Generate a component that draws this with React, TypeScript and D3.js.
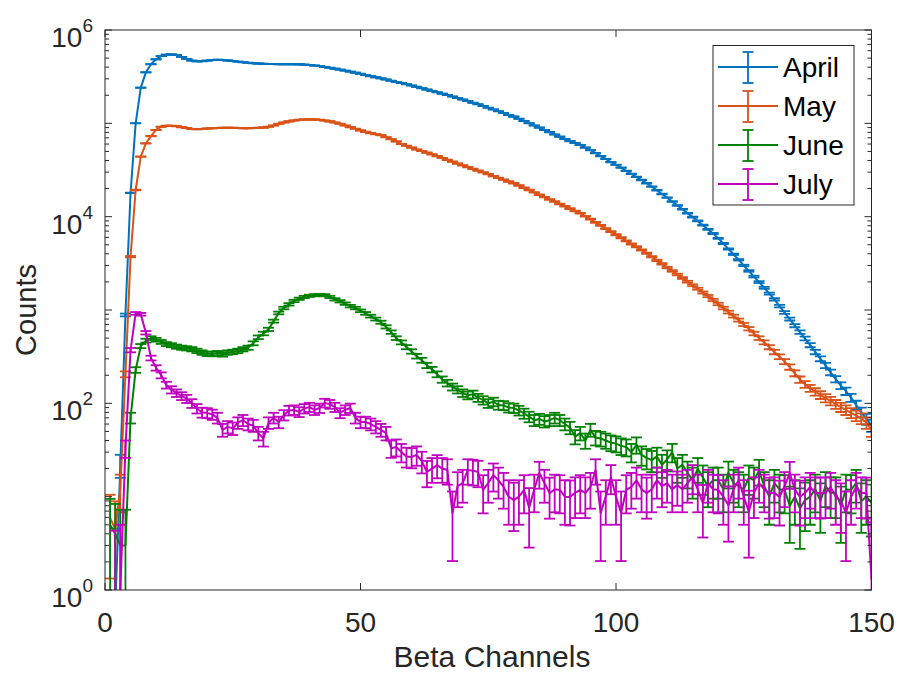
import React, { useEffect, useRef } from 'react';
import * as d3 from 'd3';

// channel numbers (x)
const channels: number[] = d3.range(1, 151);

// counts per channel
const april: number[] = [
  0, 0.6, 22, 885, 18000, 100000, 241000, 352000, 430000, 485000,
  525000, 545000, 548000, 540000, 515000, 490000, 470000, 462000, 463000, 470000,
  476000, 480000, 478000, 472000, 465000, 458000, 451000, 446000, 441000, 437000,
  434000, 432000, 431000, 430000, 430000, 430000, 430000, 429000, 426000, 421000,
  416000, 410000, 402000, 394000, 385000, 376000, 367000, 358000, 349000, 340000,
  330000, 320000, 311000, 303000, 295000, 286000, 278000, 270000, 262000, 254000,
  246000, 238000, 230000, 222000, 215000, 208000, 201000, 194000, 187000, 180000,
  173000, 166000, 160000, 153000, 147000, 141000, 135000, 129000, 123000, 118000,
  112000, 106000, 100000, 95000, 90000, 85000, 80500, 76000, 72000, 68000,
  64500, 61500, 58600, 55000, 51500, 48000, 44500, 41500, 38500, 36000,
  33500, 31000, 28800, 26700, 24700, 22800, 21000, 19200, 17500, 16000,
  14500, 13200, 12000, 10900, 9900, 9000, 8100, 7300, 6600, 5850,
  5150, 4500, 3950, 3450, 3000, 2620, 2280, 1990, 1730, 1500,
  1300, 1100, 940, 800, 680, 580, 495, 420, 355, 300,
  255, 215, 182, 155, 135, 115, 96, 80, 68, 58,
];

const may: number[] = [
  5.9, 4.5, 12, 205, 3730, 19300, 44000, 61000, 73000, 85000,
  92000, 94000, 94000, 93000, 91000, 89000, 87000, 86500, 87000, 88000,
  88500, 89000, 89500, 89500, 89500, 89000, 88500, 88500, 89000, 89500,
  90000, 92000, 95000, 99000, 102000, 105000, 107000, 109000, 110000, 110000,
  110000, 109000, 107000, 105000, 102000, 99000, 95000, 91000, 87500, 84000,
  81000, 78500, 76500, 74500, 71000, 67500, 64000, 60000, 57500, 55000,
  52500, 50500, 48500, 46500, 44500, 42500, 40500, 38800, 37100, 35500,
  34000, 32500, 31100, 29800, 28500, 27200, 26000, 24900, 23800, 22800,
  21600, 20400, 19300, 18200, 17200, 16200, 15300, 14500, 13700, 12900,
  12200, 11500, 10900, 10100, 9400, 8700, 8050, 7450, 6900, 6400,
  5950, 5500, 5100, 4750, 4400, 4050, 3720, 3400, 3120, 2850,
  2620, 2400, 2200, 2010, 1840, 1690, 1540, 1410, 1280, 1160,
  1050, 950, 860, 780, 700, 630, 560, 500, 450, 400,
  355, 316, 280, 245, 210, 180, 160, 145, 133, 123,
  114, 106, 98, 91, 85, 79, 74, 69, 62, 52,
];

const june: number[] = [
  5, 4, 3, 3, 70, 228, 411, 470, 500, 480,
  455, 432, 420, 405, 395, 389, 380, 365, 350, 340,
  338, 345, 335, 350, 356, 365, 380, 395, 440, 510,
  560, 620, 760, 930, 1050, 1150, 1250, 1320, 1380, 1420,
  1440, 1450, 1440, 1380, 1300, 1240, 1170, 1100, 1050, 980,
  920, 860, 800, 740, 660, 580, 500, 450, 400, 360,
  320, 290, 255, 230, 205, 180, 165, 150, 140, 129,
  122, 125, 115, 108, 100, 104, 96, 95, 90, 89,
  84, 78, 72, 66, 68, 64, 66, 70, 66, 60,
  55, 44, 48, 40, 52, 43, 42, 40, 38, 37,
  35, 34, 30, 36, 28, 26, 24.6, 27, 22, 25,
  30, 20, 22, 18, 15, 20, 16, 13, 15, 15,
  12, 18, 14, 13, 12, 16, 15, 19, 13, 10,
  14, 12, 11.8, 8, 10, 7.5, 9.2, 10, 12, 9,
  13, 11, 11, 8, 12, 11.8, 14, 9, 10, 8.6,
];

const july: number[] = [
  0, 0.4, 1, 33, 372, 920, 900, 571, 306, 240,
  200, 157, 140, 129, 120, 112, 100, 88, 80, 79,
  76, 70, 52, 56, 54, 62, 66, 60, 58, 48,
  42, 62, 70, 63, 75, 84, 85, 81, 88, 91,
  85, 89, 101, 98, 91, 79, 85, 89, 70, 63,
  63, 60, 56, 52, 48, 33, 34, 30, 27, 26.6,
  28, 24, 18.4, 20, 21.8, 20, 19.3, 6.7, 13, 14,
  19.3, 19, 18.4, 11.8, 14, 17, 15, 12.7, 10, 9.2,
  10, 11.8, 7.6, 12, 17.9, 14, 10.9, 12, 11.8, 10,
  9.9, 11, 11.8, 11, 12.7, 19.3, 6.7, 10, 16.2, 10,
  6.7, 11.8, 12.7, 15, 12, 10.9, 12, 15, 13, 14,
  12, 13.3, 12, 14, 16.2, 12, 8.5, 14, 12, 11.8,
  10, 8.1, 12, 15, 10, 6.9, 11, 14, 12, 10.9,
  11, 9.9, 13, 17.9, 12, 9.9, 11, 12.7, 11, 10.9,
  11, 12.7, 10, 9, 6.7, 10, 12.7, 11, 10.9, 1.3,
];

const seriesNames: string[] = ['April', 'May', 'June', 'July'];
const seriesColors: string[] = ['#0072bd', '#d95319', '#008000', '#c000c0'];
const seriesValues: number[][] = [april, may, june, july];

// counting background folded into the error bars
const POISSON_BG = 15;

const xTicks: number[] = [0, 50, 100, 150];
const yDecades: number[] = [0, 1, 2, 3, 4, 5, 6];
const yLabelDecades: number[] = [0, 2, 4, 6];

const W = 899;
const H = 675;
const FONT = "'Liberation Sans', Arial, Helvetica, sans-serif";

const App: React.FC = () => {
  const svgRef = useRef<SVGSVGElement>(null);

  useEffect(() => {
    if (!svgRef.current) return;
    const svg = d3.select(svgRef.current);
    svg.selectAll('*').remove();

    const left = 105;
    const right = 871.5;
    const top = 30;
    const bottom = 590;
    const axisColor = '#262626';

    const x = d3.scaleLinear().domain([0, 150]).range([left, right]);
    const y = d3.scaleLog().domain([1, 1e6]).range([bottom, top]);

    svg.append('rect')
      .attr('x', left).attr('y', top)
      .attr('width', right - left).attr('height', bottom - top)
      .attr('fill', '#fff');

    svg.append('clipPath').attr('id', 'plotClip')
      .append('rect')
      .attr('x', left).attr('y', top)
      .attr('width', right - left).attr('height', bottom - top);

    const plot = svg.append('g').attr('clip-path', 'url(#plotClip)');
    const capHalf = 5.5;

    seriesValues.forEach((vals, si) => {
      const color = seriesColors[si];
      const pts = channels.map((c, i) => ({ c, v: vals[i] }));
      const g = plot.append('g');

      // error bars
      pts.filter(p => p.v > 0).forEach(p => {
        const err = Math.sqrt(p.v + POISSON_BG);
        const hi = p.v + err;
        const lo = Math.max(p.v - err, 0.05);
        const cx = x(p.c);
        g.append('line')
          .attr('x1', cx).attr('x2', cx)
          .attr('y1', y(lo)).attr('y2', y(hi))
          .attr('stroke', color).attr('stroke-width', 1.8);
        [lo, hi].forEach(b => {
          g.append('line')
            .attr('x1', cx - capHalf).attr('x2', cx + capHalf)
            .attr('y1', y(b)).attr('y2', y(b))
            .attr('stroke', color).attr('stroke-width', 1.8);
        });
      });

      const line = d3.line<{ c: number; v: number }>()
        .defined(d => d.v > 0)
        .x(d => x(d.c))
        .y(d => y(d.v));

      g.append('path')
        .datum(pts)
        .attr('d', line)
        .attr('fill', 'none')
        .attr('stroke', color)
        .attr('stroke-width', 2)
        .attr('stroke-linejoin', 'round');
    });

    // box
    svg.append('rect')
      .attr('x', left).attr('y', top)
      .attr('width', right - left).attr('height', bottom - top)
      .attr('fill', 'none').attr('stroke', axisColor).attr('stroke-width', 1);

    const ticks = svg.append('g').attr('stroke', axisColor).attr('stroke-width', 1);

    // x ticks, bottom and top, pointing in
    xTicks.forEach(t => {
      ticks.append('line').attr('x1', x(t)).attr('x2', x(t)).attr('y1', bottom).attr('y2', bottom - 7);
      ticks.append('line').attr('x1', x(t)).attr('x2', x(t)).attr('y1', top).attr('y2', top + 7);
      svg.append('text')
        .attr('x', x(t)).attr('y', 632)
        .attr('text-anchor', 'middle')
        .attr('font-family', FONT).attr('font-size', 28)
        .attr('fill', axisColor)
        .text(t);
    });

    // y ticks: decades plus minor ticks
    yDecades.forEach(d => {
      const v = Math.pow(10, d);
      ticks.append('line').attr('x1', left).attr('x2', left + 7).attr('y1', y(v)).attr('y2', y(v));
      ticks.append('line').attr('x1', right).attr('x2', right - 7).attr('y1', y(v)).attr('y2', y(v));
      if (d < 6) {
        d3.range(2, 10).forEach(m => {
          const mv = m * v;
          ticks.append('line').attr('x1', left).attr('x2', left + 4).attr('y1', y(mv)).attr('y2', y(mv));
          ticks.append('line').attr('x1', right).attr('x2', right - 4).attr('y1', y(mv)).attr('y2', y(mv));
        });
      }
    });

    yLabelDecades.forEach(d => {
      const ty = y(Math.pow(10, d));
      const t = svg.append('text')
        .attr('x', 93).attr('y', ty + 17)
        .attr('text-anchor', 'end')
        .attr('font-family', FONT)
        .attr('fill', axisColor);
      t.append('tspan').attr('font-size', 28).text('10');
      t.append('tspan').attr('font-size', 19).attr('dy', -15).text(String(d));
    });

    // axis labels
    svg.append('text')
      .attr('x', 492).attr('y', 667)
      .attr('text-anchor', 'middle')
      .attr('font-family', FONT).attr('font-size', 30)
      .attr('fill', axisColor)
      .text('Beta Channels');

    svg.append('text')
      .attr('transform', `translate(36, ${(top + bottom) / 2}) rotate(-90)`)
      .attr('text-anchor', 'middle')
      .attr('font-family', FONT).attr('font-size', 29)
      .attr('fill', axisColor)
      .text('Counts');

    // legend
    const lg = svg.append('g');
    lg.append('rect')
      .attr('x', 713).attr('y', 45.5)
      .attr('width', 141).attr('height', 159.5)
      .attr('fill', '#fff').attr('stroke', axisColor).attr('stroke-width', 1);

    seriesNames.forEach((name, i) => {
      const ly = 67 + i * 39;
      const color = seriesColors[i];
      lg.append('line').attr('x1', 718).attr('x2', 778).attr('y1', ly).attr('y2', ly)
        .attr('stroke', color).attr('stroke-width', 2);
      lg.append('line').attr('x1', 748).attr('x2', 748).attr('y1', ly - 15).attr('y2', ly + 16)
        .attr('stroke', color).attr('stroke-width', 1.8);
      [ly - 15, ly + 16].forEach(cy => {
        lg.append('line').attr('x1', 742.5).attr('x2', 753.5).attr('y1', cy).attr('y2', cy)
          .attr('stroke', color).attr('stroke-width', 1.8);
      });
      lg.append('text')
        .attr('x', 783).attr('y', ly + 10)
        .attr('font-family', FONT).attr('font-size', 28)
        .attr('fill', '#000')
        .text(name);
    });
  }, []);

  return (
    <svg
      ref={svgRef}
      width={W}
      height={H}
      style={{ position: 'absolute', left: 0, top: 0, background: '#fff' }}
    />
  );
};

export default App;
